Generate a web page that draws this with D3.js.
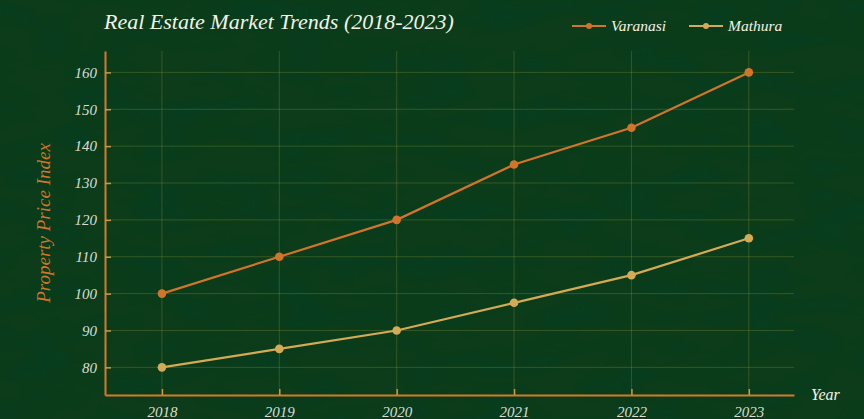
<!DOCTYPE html>
<html>
<head>
<meta charset="utf-8">
<script src="https://cdn.jsdelivr.net/npm/d3@7"></script>
<style>
  html, body { margin: 0; padding: 0; background: #0c3a18; }
  svg { display: block; }
  text { font-family: "Liberation Serif", serif; font-style: italic; }
</style>
</head>
<body>
<svg id="chart" width="864" height="419"></svg>
<script>
const years = [2018, 2019, 2020, 2021, 2022, 2023];
const varanasi = [100, 110, 120, 135, 145, 160];
const mathura = [80, 85, 90, 97.5, 105, 115];
const yTicks = [80, 90, 100, 110, 120, 130, 140, 150, 160];
const seriesNames = ["Varanasi", "Mathura"];
const seriesColors = ["#d2742a", "#d6aa55"];
const titleText = "Real Estate Market Trends (2018-2023)";
const yLabel = "Property Price Index";
const xLabel = "Year";

const W = 864, H = 419;
const FONT = "'Liberation Serif', serif";
const svg = d3.select("#chart");

// background with subtle dark texture
const defs = svg.append("defs");
const f = defs.append("filter").attr("id", "tex").attr("x", 0).attr("y", 0).attr("width", "100%").attr("height", "100%");
f.append("feTurbulence").attr("type", "fractalNoise").attr("baseFrequency", "0.015 0.04").attr("numOctaves", 4).attr("seed", 7).attr("result", "n");
f.append("feColorMatrix").attr("in", "n").attr("type", "matrix")
  .attr("values", "0 0 0 0 0  0 0 0 0 0.05  0 0 0 0 0.02  0 0 0 -3 1.7");
svg.append("rect").attr("width", W).attr("height", H).attr("fill", "#0c3c19");
svg.append("rect").attr("width", W).attr("height", H).attr("fill", "#000").attr("filter", "url(#tex)").attr("opacity", 0.4);

const x = d3.scaleLinear().domain([2017.515, 2023.385]).range([105, 794]);
const y = d3.scaleLinear().domain([72.5, 165.8]).range([395, 51]);

const gridColor = "rgba(170,160,60,0.28)";
svg.append("g").selectAll("line").data(yTicks).join("line")
  .attr("x1", x.range()[0]).attr("x2", x.range()[1])
  .attr("y1", d => y(d)).attr("y2", d => y(d))
  .attr("stroke", gridColor).attr("stroke-width", 1);
svg.append("g").selectAll("line").data(years).join("line")
  .attr("x1", d => x(d)).attr("x2", d => x(d))
  .attr("y1", y.range()[0]).attr("y2", y.range()[1])
  .attr("stroke", gridColor).attr("stroke-width", 1);

const axisColor = "#d9782a";
const yAxis = svg.append("g").attr("transform", `translate(${x.range()[0]},0)`)
  .call(d3.axisLeft(y).tickValues(yTicks).tickSize(-6).tickSizeOuter(0).tickPadding(8));
const xAxis = svg.append("g").attr("transform", `translate(0,${y.range()[0]})`)
  .call(d3.axisBottom(x).tickValues(years).tickFormat(d3.format("d")).tickSize(-6).tickSizeOuter(0).tickPadding(11));
[yAxis, xAxis].forEach(g => {
  g.attr("font-family", FONT);
  g.select(".domain").attr("stroke", axisColor).attr("stroke-width", 2);
  g.selectAll(".tick line").attr("stroke", "#c89a45").attr("stroke-width", 1.5);
  g.selectAll(".tick text").attr("fill", "#dcdcd4").attr("font-size", 15)
    .attr("font-family", FONT).attr("font-style", "italic");
});

const allSeries = [varanasi, mathura];
const line = d3.line().x((d, i) => x(years[i])).y(d => y(d));
allSeries.forEach((s, k) => {
  svg.append("path").datum(s).attr("d", line)
    .attr("fill", "none").attr("stroke", seriesColors[k]).attr("stroke-width", 2.2);
  svg.append("g").selectAll("circle").data(s).join("circle")
    .attr("cx", (d, i) => x(years[i])).attr("cy", d => y(d)).attr("r", 4.3)
    .attr("fill", seriesColors[k]);
});

svg.append("text").attr("x", 104).attr("y", 29).attr("fill", "#f2f2ea")
  .attr("font-size", 22).text(titleText);

svg.append("text").attr("transform", `translate(50,${(y.range()[0] + y.range()[1]) / 2}) rotate(-90)`)
  .attr("text-anchor", "middle").attr("fill", "#d2742a").attr("font-size", 19).text(yLabel);

svg.append("text").attr("x", 811).attr("y", 400).attr("fill", "#f2f2ea")
  .attr("font-size", 16).text(xLabel);

const legX = [572, 689];
seriesNames.forEach((n, k) => {
  const g = svg.append("g").attr("transform", `translate(${legX[k]},26)`);
  g.append("line").attr("x1", 0).attr("x2", 34).attr("y1", 0).attr("y2", 0)
    .attr("stroke", seriesColors[k]).attr("stroke-width", 2);
  g.append("circle").attr("cx", 17).attr("cy", 0).attr("r", 3).attr("fill", seriesColors[k]);
  g.append("text").attr("x", 39).attr("y", 5).attr("fill", "#f2f2ea").attr("font-size", 15.5).text(n);
});
</script>
</body>
</html>
